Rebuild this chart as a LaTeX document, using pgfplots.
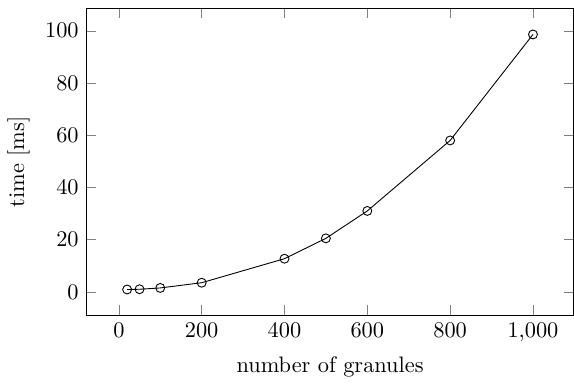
\documentclass[border=0pt]{standalone}
\usepackage{pgfplots}
\pgfplotsset{compat=1.18}
\begin{document}
\begin{tikzpicture}
\begin{axis}[
  scale only axis,
  width=218pt, height=137pt,
  xlabel={number of granules},
  ylabel={time [ms]},
  xtick={0,200,400,600,800,1000},
  ytick={0,20,40,60,80,100},
]
\addplot[black, mark=o] coordinates {
  (20,0.9) (50,1.0) (100,1.5) (200,3.5) (400,12.7) (500,20.5) (600,31.0) (800,58.0) (1000,98.6)
};
\end{axis}
\path (current axis.north) ++(0,4pt);
\end{tikzpicture}
\end{document}
